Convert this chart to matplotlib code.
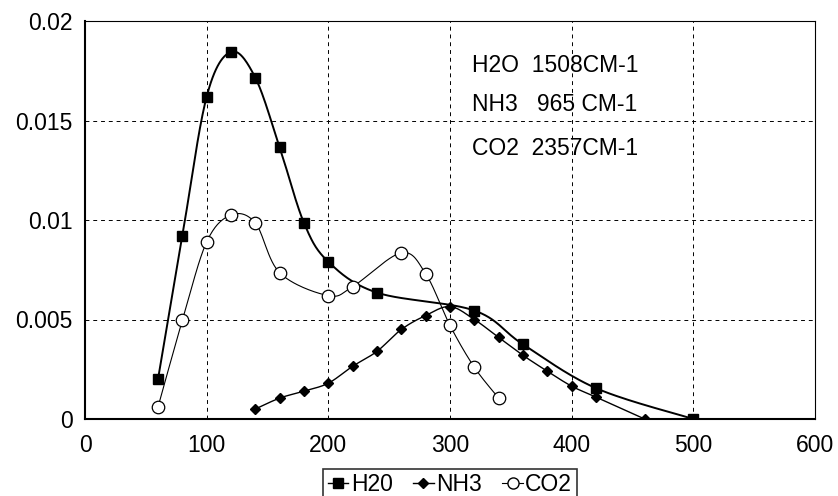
import numpy as np
import matplotlib.pyplot as plt
from matplotlib.lines import Line2D

# ---- data ----
h2o_x = [60, 80, 100, 120, 140, 160, 180, 200, 240, 320, 360, 420, 500]
h2o_y = [0.0020, 0.0092, 0.0162, 0.01845, 0.01715, 0.01365, 0.00985, 0.0079,
         0.00635, 0.00545, 0.00375, 0.00155, 0.0]

nh3_x = [140, 160, 180, 200, 220, 240, 260, 280, 300, 320, 340, 360, 380, 400, 420, 460]
nh3_y = [0.0005, 0.00105, 0.0014, 0.0018, 0.00265, 0.0034, 0.0045, 0.0052,
         0.00565, 0.0050, 0.0041, 0.0032, 0.0024, 0.00165, 0.0011, 0.0]

co2_x = [60, 80, 100, 120, 140, 160, 200, 220, 260, 280, 300, 320, 340]
co2_y = [0.0006, 0.00495, 0.0089, 0.01025, 0.00985, 0.00735, 0.0062, 0.00665,
         0.00835, 0.0073, 0.0047, 0.0026, 0.00105]

notes = ["H2O  1508CM-1", "NH3   965 CM-1", "CO2  2357CM-1"]
note_y = [0.01775, 0.0158, 0.0136]

XMAX, YMAX = 600, 0.02
W, H = 730, 398  # axes size in px


def smooth(xs, ys, n=30):
    """Excel-like smoothed line: cubic Bezier with tangents (p[i+1]-p[i-1])/6,
    computed in screen-like space."""
    p = np.column_stack([np.asarray(xs) / XMAX * W, np.asarray(ys) / YMAX * H])
    out = [p[0]]
    t = np.linspace(0, 1, n)[1:, None]
    for i in range(len(p) - 1):
        p0 = p[i - 1] if i > 0 else p[i]
        p3 = p[i + 2] if i + 2 < len(p) else p[i + 1]
        c1 = p[i] + (p[i + 1] - p0) / 6
        c2 = p[i + 1] - (p3 - p[i]) / 6
        seg = ((1 - t) ** 3) * p[i] + 3 * ((1 - t) ** 2) * t * c1 \
            + 3 * (1 - t) * t ** 2 * c2 + t ** 3 * p[i + 1]
        out.extend(seg)
    out = np.array(out)
    return out[:, 0] / W * XMAX, out[:, 1] / H * YMAX


fig = plt.figure(figsize=(8.38, 4.96), dpi=100)
ax = fig.add_axes([85 / 838, 77 / 496, W / 838, H / 496])

# H2O
sx, sy = smooth(h2o_x, h2o_y)
ax.plot(sx, sy, color="black", linewidth=1.4, zorder=3)
ax.plot(h2o_x, h2o_y, "s", color="black", markersize=7, zorder=4)

# NH3
sx, sy = smooth(nh3_x, nh3_y)
ax.plot(sx, sy, color="black", linewidth=1.0, zorder=3)
ax.plot(nh3_x, nh3_y, "D", color="black", markersize=5, zorder=4)

# CO2
sx, sy = smooth(co2_x, co2_y)
ax.plot(sx, sy, color="black", linewidth=0.8, zorder=3)
ax.plot(co2_x, co2_y, "o", markerfacecolor="white", markeredgecolor="black",
        markersize=9, markeredgewidth=0.9, zorder=4)

for txt, yy in zip(notes, note_y):
    ax.text(318, yy, txt, fontsize=16.5, ha="left", va="center",
            family="Liberation Sans")

ax.set_xlim(0, XMAX)
ax.set_ylim(0, YMAX)
ax.set_xticks(range(0, 601, 100))
ax.set_yticks([0, 0.005, 0.01, 0.015, 0.02])
ax.set_yticklabels(["0", "0.005", "0.01", "0.015", "0.02"])
ax.tick_params(length=0, labelsize=16.5)
ax.tick_params(axis="x", pad=11)
ax.tick_params(axis="y", pad=9)
for lab in ax.get_xticklabels() + ax.get_yticklabels():
    lab.set_family("Liberation Sans")
ax.grid(True, color="black", linestyle=(0, (4, 4)), linewidth=0.7)
for s in ax.spines.values():
    s.set_linewidth(0.8)
ax.spines["left"].set_linewidth(1.5)
ax.spines["bottom"].set_linewidth(1.5)

handles = [
    Line2D([], [], color="black", marker="s", markersize=7, linewidth=1.0),
    Line2D([], [], color="black", marker="D", markersize=5, linewidth=1.0),
    Line2D([], [], color="black", marker="o", markerfacecolor="white",
           markersize=8, linewidth=0.8),
]
leg = fig.legend(handles, ["H20", "NH3", "CO2"], loc="lower center",
                 bbox_to_anchor=(450 / 838, -0.01), ncol=3, frameon=True,
                 fancybox=False, edgecolor="black", handlelength=0.9,
                 handletextpad=0.1, columnspacing=0.9, borderpad=0.2,
                 borderaxespad=0.0,
                 prop={"family": "Liberation Sans", "size": 16.5})
leg.get_frame().set_linewidth(1.2)

fig.savefig("out.png", dpi=100)
